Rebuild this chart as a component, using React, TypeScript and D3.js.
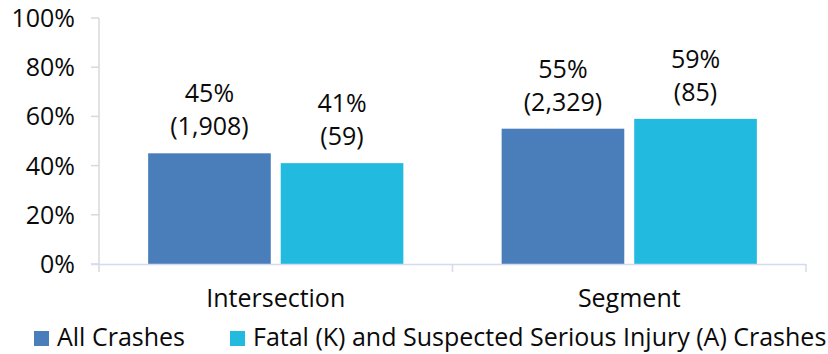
import React from "react";
import * as d3 from "d3";

const categories = ["Intersection", "Segment"];
const seriesNames = ["All Crashes", "Fatal (K) and Suspected Serious Injury (A) Crashes"];
const allCrashesPct = [45, 55];
const allCrashesCount = [1908, 2329];
const kaCrashesPct = [41, 59];
const kaCrashesCount = [59, 85];
const yTicks = [0, 20, 40, 60, 80, 100];

const seriesColors = ["#4A7EBB", "#23BAE0"];
const FONT = "'Open Sans', 'Liberation Sans', sans-serif";
const FS = 25;

const W = 828;
const H = 354;
const plot = { left: 99, right: 806, top: 18, bottom: 264 };

export default function App() {
  const x0 = d3.scaleBand<string>().domain(categories).range([plot.left, plot.right]).padding(0);
  const bw = x0.bandwidth();
  const groupPad = bw * 0.139;
  const x1 = d3
    .scaleBand<string>()
    .domain(seriesNames)
    .range([groupPad, bw - groupPad])
    .paddingInner(0.075)
    .paddingOuter(0);
  const y = d3.scaleLinear().domain([0, 100]).range([plot.bottom, plot.top]);

  const pctFmt = (v: number) => `${v}%`;
  const countFmt = d3.format(",");

  const rows = categories.map((c, i) => ({
    cat: c,
    bars: [
      { s: seriesNames[0], pct: allCrashesPct[i], n: allCrashesCount[i], color: seriesColors[0] },
      { s: seriesNames[1], pct: kaCrashesPct[i], n: kaCrashesCount[i], color: seriesColors[1] },
    ],
  }));

  const axisColor = "#D6DAEE";
  const yAxisColor = "#D9D9D9";
  const tickBottom = plot.bottom + 8;
  const textColor = "#0a0a0a";

  return (
    <svg
      width={W}
      height={H}
      style={{ position: "absolute", left: 0, top: 0, background: "#fff" }}
      fontFamily={FONT}
    >
      {/* y axis */}
      <line x1={plot.left} x2={plot.left} y1={plot.top} y2={tickBottom} stroke={yAxisColor} strokeWidth={1.5} />
      {yTicks.map((t) => (
        <g key={t}>
          <line x1={plot.left - 8} x2={plot.left} y1={y(t)} y2={y(t)} stroke={yAxisColor} strokeWidth={1.5} />
          <text x={75} y={y(t)} dy="0.36em" textAnchor="end" fontSize={FS} fill={textColor}>
            {pctFmt(t)}
          </text>
        </g>
      ))}

      {/* bars and labels */}
      {rows.map((r) => (
        <g key={r.cat} transform={`translate(${x0(r.cat)},0)`}>
          {r.bars.map((b) => {
            const bx = x1(b.s)!;
            const cx = bx + x1.bandwidth() / 2;
            return (
              <g key={b.s}>
                <rect x={bx} y={y(b.pct)} width={x1.bandwidth()} height={y(0) - y(b.pct)} fill={b.color} />
                <text x={cx} y={y(b.pct) - 51} textAnchor="middle" fontSize={FS} fill={textColor}>
                  {pctFmt(b.pct)}
                </text>
                <text x={cx} y={y(b.pct) - 18} textAnchor="middle" fontSize={FS} fill={textColor}>
                  {`(${countFmt(b.n)})`}
                </text>
              </g>
            );
          })}
          <text x={bw / 2} y={307} textAnchor="middle" fontSize={FS} fill={textColor}>
            {r.cat}
          </text>
        </g>
      ))}

      {/* x axis */}
      <line x1={plot.left - 8} x2={plot.right} y1={plot.bottom + 0.5} y2={plot.bottom + 0.5} stroke={axisColor} strokeWidth={1.5} />
      {categories.map((c) => (
        <line
          key={c}
          x1={x0(c)! + bw}
          x2={x0(c)! + bw}
          y1={plot.bottom}
          y2={tickBottom}
          stroke={axisColor}
          strokeWidth={1.5}
        />
      ))}

      {/* legend */}
      {[
        { sx: 34, tx: 57 },
        { sx: 230, tx: 253 },
      ].map((p, i) => (
        <g key={seriesNames[i]}>
          <rect x={p.sx} y={331} width={15} height={15} fill={seriesColors[i]} />
          <text x={p.tx} y={346} fontSize={FS} fill={textColor}>
            {seriesNames[i]}
          </text>
        </g>
      ))}
    </svg>
  );
}
